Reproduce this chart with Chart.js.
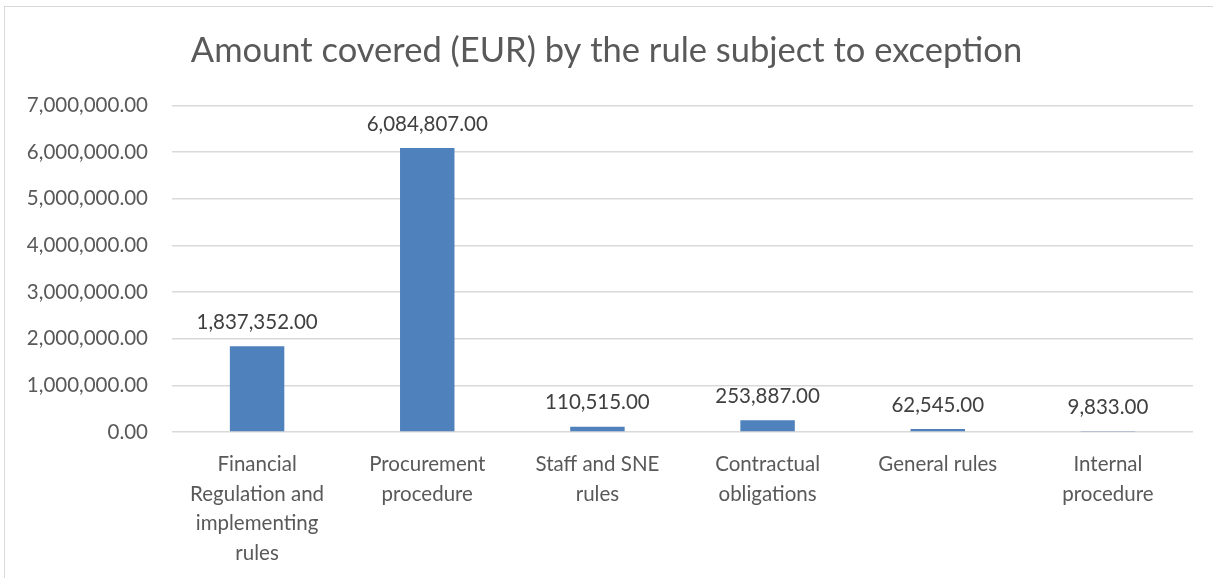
<!DOCTYPE html>
<html><head><meta charset="utf-8">
<script src="https://cdn.jsdelivr.net/npm/chart.js@4"></script>
<style>
html,body{margin:0;padding:0;background:#fff;}
#wrap{position:absolute;left:4px;top:6px;width:1220px;height:580px;border:1px solid #d9d9d9;box-sizing:border-box;}
#c{position:absolute;left:0;top:0;}
</style></head><body>
<div id="wrap"></div>
<canvas id="c" width="1213" height="578"></canvas>
<script>
const categories = [
  ["Financial","Regulation and","implementing","rules"],
  ["Procurement","procedure"],
  ["Staff and SNE","rules"],
  ["Contractual","obligations"],
  ["General rules"],
  ["Internal","procedure"]
];
const amounts = [1837352, 6084807, 110515, 253887, 62545, 9833];
const yTicks = [0,1000000,2000000,3000000,4000000,5000000,6000000,7000000];

const fmt = v => v.toLocaleString('en-US',{minimumFractionDigits:2,maximumFractionDigits:2});
const FONT = 'Lato, "Open Sans", sans-serif';

const labelPlugin = {
  id:'barLabels',
  afterDatasetsDraw(chart){
    const ctx = chart.ctx;
    const meta = chart.getDatasetMeta(0);
    ctx.save();
    ctx.font = '20.5px ' + FONT;
    ctx.fillStyle = '#404040';
    ctx.textAlign = 'center';
    ctx.textBaseline = 'middle';
    meta.data.forEach((bar,i)=>{
      ctx.fillText(fmt(amounts[i]), bar.x, bar.y - 24);
    });
    ctx.restore();
  }
};

new Chart(document.getElementById('c'), {
  type:'bar',
  data:{labels:categories, datasets:[{data:amounts, backgroundColor:'#4f81bd', barPercentage:0.32, categoryPercentage:1}]},
  options:{
    responsive:false, animation:false, devicePixelRatio:1,
    layout:{padding:{left:20,right:20,top:10,bottom:0}},
    plugins:{
      legend:{display:false}, tooltip:{enabled:false},
      title:{display:true, text:'Amount covered (EUR) by the rule subject to exception',
        color:'#595959', font:{family:FONT, size:34.5, weight:'normal'}, padding:{top:20,bottom:34}}
    },
    scales:{
      x:{grid:{display:false}, border:{display:false},
         afterFit(axis){ axis.height = 146; },
         ticks:{color:'#595959', font:{family:FONT, size:20.5, lineHeight:1.46}, padding:9, maxRotation:0, autoSkip:false}},
      y:{min:0, max:7000000, afterBuildTicks(axis){axis.ticks = yTicks.map(v=>({value:v}));},
         afterFit(axis){ axis.width = 152; },
         grid:{color:'#d9d9d9', drawTicks:false, lineWidth:1.5}, border:{display:false},
         ticks:{color:'#595959', font:{family:FONT, size:20.5}, padding:24, callback:v=>fmt(v)}}
    }
  },
  plugins:[labelPlugin]
});
</script>
</body></html>
